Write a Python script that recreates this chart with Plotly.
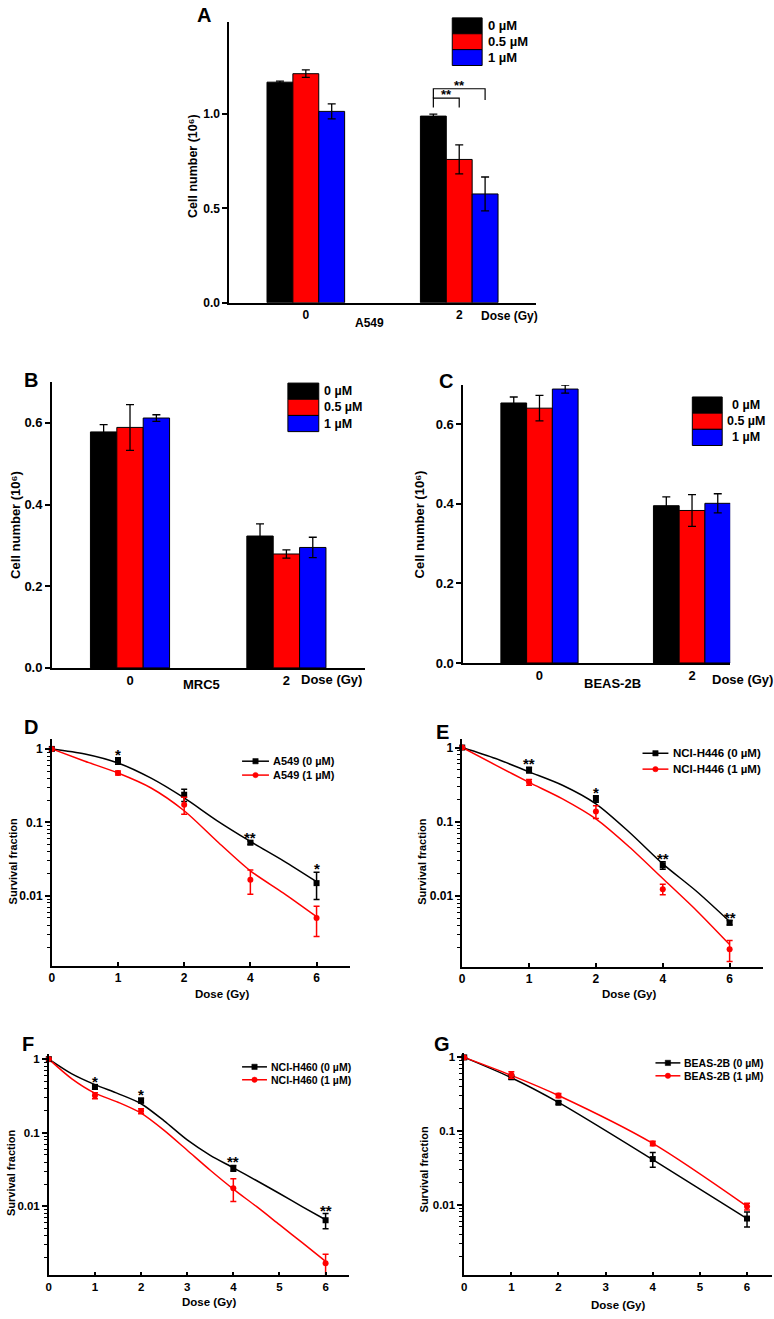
import math
import plotly.graph_objects as go

W, H = 774, 1319
FONT = "Liberation Sans"

# ---------------- data: bar panels (cell number, 10^6) ----------------
bar_doses = ["0", "2"]
conc_labels = ["0 µM", "0.5 µM", "1 µM"]

a549_0uM = [1.17, 0.99]
a549_0uM_err = [0.006, 0.01]
a549_05uM = [1.215, 0.76]
a549_05uM_err = [0.02, 0.077]
a549_1uM = [1.015, 0.577]
a549_1uM_err = [0.04, 0.09]

mrc5_0uM = [0.578, 0.323]
mrc5_0uM_err = [0.018, 0.03]
mrc5_05uM = [0.589, 0.279]
mrc5_05uM_err = [0.056, 0.01]
mrc5_1uM = [0.612, 0.295]
mrc5_1uM_err = [0.008, 0.025]

beas_0uM = [0.653, 0.395]
beas_0uM_err = [0.015, 0.022]
beas_05uM = [0.640, 0.383]
beas_05uM_err = [0.032, 0.04]
beas_1uM = [0.688, 0.401]
beas_1uM_err = [0.01, 0.024]

# ---------------- data: survival curves ----------------
# D and E use equally spaced dose categories
dose_cat_labels = ["0", "1", "2", "4", "6"]
dose_cat_fit = [0, 0.5, 1, 1.5, 2, 2.5, 3, 3.5, 4]  # category-index positions of fit readings

a549_sf_0 = [1.0, 0.69, 0.238, 0.053, 0.0149]
a549_sf_0_err = [0.0, 0.07, 0.045, 0.003, 0.006]
a549_sf_1 = [1.0, 0.47, 0.174, 0.0165, 0.005]
a549_sf_1_err = [0.0, 0.03, 0.045, 0.006, 0.0022]
a549_fit_0 = [1.0, 0.855, 0.644, 0.40, 0.215, 0.105, 0.055, 0.030, 0.0156]
a549_fit_1 = [1.0, 0.68, 0.47, 0.294, 0.144, 0.055, 0.0219, 0.0109, 0.0052]
a549_sig = ["", "*", "", "**", "*"]

h446_sf_0 = [1.0, 0.497, 0.203, 0.0258, 0.00434]
h446_sf_0_err = [0.0, 0.045, 0.02, 0.003, 0.0003]
h446_sf_1 = [1.0, 0.34, 0.137, 0.0123, 0.0019]
h446_sf_1_err = [0.0, 0.03, 0.027, 0.002, 0.0006]
h446_fit_0 = [1.0, 0.71, 0.47, 0.31, 0.174, 0.072, 0.027, 0.0116, 0.0045]
h446_fit_1 = [1.0, 0.58, 0.339, 0.203, 0.109, 0.0455, 0.0171, 0.0064, 0.0022]
h446_sig = ["", "**", "*", "**", "**"]

# F and G use a linear dose axis
dose_gy = [0, 1, 2, 4, 6]
dose_gy_fit = [0, 0.5, 1, 1.5, 2, 2.5, 3, 3.5, 4, 4.5, 5, 5.5, 6]

h460_sf_0 = [1.0, 0.42, 0.274, 0.033, 0.0065]
h460_sf_0_err = [0.0, 0.03, 0.02, 0.003, 0.0015]
h460_sf_1 = [1.0, 0.32, 0.197, 0.0177, 0.0017]
h460_sf_1_err = [0.0, 0.03, 0.015, 0.006, 0.00055]
h460_fit_0 = [1.0, 0.63, 0.45, 0.34, 0.248, 0.145, 0.080, 0.0495, 0.0335, 0.0225, 0.0150, 0.0099, 0.0066]
h460_fit_1 = [1.0, 0.54, 0.345, 0.26, 0.185, 0.108, 0.058, 0.031, 0.0172, 0.0100, 0.00566, 0.0032, 0.0018]
h460_sig = ["", "*", "*", "**", "**"]

beas_sf_0 = [1.0, 0.537, 0.242, 0.0417, 0.0065]
beas_sf_0_err = [0.0, 0.03, 0.01, 0.0095, 0.0015]
beas_sf_1 = [1.0, 0.58, 0.304, 0.068, 0.0095]
beas_sf_1_err = [0.0, 0.06, 0.02, 0.005, 0.001]
beas_fit_0 = [1.0, 0.53, 0.245, 0.041, 0.0065]
beas_fit_1 = [1.0, 0.57, 0.304, 0.068, 0.0095]

# ---------------- helpers ----------------
BLACK, RED, BLUE = "#000000", "#ff0000", "#0000ff"
bar_colors = [BLACK, RED, BLUE]


def xd(p0, p1):
    return [p0 / W, p1 / W]


def yd(top, bottom):
    return [1 - bottom / H, 1 - top / H]


def px(x):
    return x / W


def py(y):
    return 1 - y / H


def bold(size):
    return dict(family=FONT, size=size, color="black", weight="bold")


fig = go.Figure()
annotations = []
shapes = []


def text(x, y, t, size, angle=0, xanchor="center", yanchor="middle"):
    annotations.append(dict(x=px(x), y=py(y), xref="paper", yref="paper", text=t,
                            showarrow=False, textangle=angle, font=bold(size),
                            xanchor=xanchor, yanchor=yanchor))


axis_common = dict(showline=True, linecolor="black", linewidth=1.5, showgrid=False,
                   zeroline=False, ticks="outside", tickcolor="black", tickwidth=1.5,
                   ticklen=5, mirror=False)

layout_axes = {}


def bar_panel(idx, xdom, ydom, yrange, ytickvals, xrange, series, errs, tick_size):
    sfx = "" if idx == 1 else str(idx)
    xname, yname = "x" + sfx, "y" + sfx
    xpos = list(range(len(bar_doses)))
    for vals, err, col, lab in zip(series, errs, bar_colors, conc_labels):
        fig.add_trace(go.Bar(x=xpos, y=vals, xaxis=xname, yaxis=yname, name=lab,
                             marker=dict(color=col, line=dict(color="black", width=1)),
                             error_y=dict(type="data", array=err, color="black",
                                          thickness=1.3, width=4),
                             showlegend=False))
    layout_axes["xaxis" + sfx] = dict(axis_common, domain=xdom, anchor=yname, range=xrange,
                                      tickvals=xpos, ticktext=bar_doses, ticks="",
                                      tickfont=bold(tick_size))
    layout_axes["yaxis" + sfx] = dict(axis_common, domain=ydom, anchor=xname, range=yrange,
                                      tickvals=ytickvals, tickformat=".1f",
                                      tickfont=bold(tick_size))


def bar_legend(x0, x1, top, row_h, text_x, size, anchor="left"):
    for i, (lab, col) in enumerate(zip(conc_labels, bar_colors)):
        t = top + i * row_h
        shapes.append(dict(type="rect", xref="paper", yref="paper",
                           x0=px(x0), x1=px(x1), y0=py(t + row_h), y1=py(t),
                           fillcolor=col, line=dict(color="black", width=1)))
        text(text_x, t + row_h / 2, lab, size, xanchor=anchor)


def line_legend(x0, x1, rows, names, text_x, size):
    xm = (x0 + x1) / 2
    for yy, name, col, sym in zip(rows, names, (BLACK, RED), ("square", "circle")):
        shapes.append(dict(type="line", xref="paper", yref="paper", x0=px(x0), x1=px(x1),
                           y0=py(yy), y1=py(yy), line=dict(color=col, width=1.5)))
        shapes.append(dict(type="rect" if sym == "square" else "circle", xref="paper",
                           yref="paper", x0=px(xm - 2.7), x1=px(xm + 2.7), y0=py(yy + 2.7),
                           y1=py(yy - 2.7), fillcolor=col, line=dict(color=col, width=0.5)))
        text(text_x, yy, name, size, xanchor="left")


# Panel A
bar_panel(1, xd(227, 535), yd(20, 303), [0, 1.49], [0, 0.5, 1.0], [-0.5, 1.5],
          [a549_0uM, a549_05uM, a549_1uM], [a549_0uM_err, a549_05uM_err, a549_1uM_err], 12)
# Panel B
bar_panel(2, xd(49, 363), yd(383, 671), [0, 0.70], [0, 0.2, 0.4, 0.6], [-0.5, 1.5],
          [mrc5_0uM, mrc5_05uM, mrc5_1uM], [mrc5_0uM_err, mrc5_05uM_err, mrc5_1uM_err], 13)
# Panel C
bar_panel(3, xd(462, 730), yd(386, 666), [0, 0.698], [0, 0.2, 0.4, 0.6], [-0.5, 1.25],
          [beas_0uM, beas_05uM, beas_1uM], [beas_0uM_err, beas_05uM_err, beas_1uM_err], 13)

bar_legend(451, 481, 16, 16, 485, 13)
bar_legend(286, 317, 384, 16.3, 320, 12.5)
bar_legend(692, 722, 398, 16.3, 746, 12.5, anchor="center")

# significance brackets in panel A (between 0 µM and 0.5 / 1 µM at 2 Gy)
BARGAP = 0.494
bw = (1 - BARGAP) / 3
g = 1
base = a549_0uM[g] + a549_0uM_err[g]
xb, xr, xbl = g - bw, g, g + bw
inner_top, outer_top = base + 0.085, base + 0.135
shapes.append(dict(type="path", xref="x", yref="y",
                   path=f"M {xb},{inner_top - 0.05} L {xb},{inner_top} L {xr},{inner_top} L {xr},{inner_top - 0.05}",
                   line=dict(color="black", width=1.2)))
shapes.append(dict(type="path", xref="x", yref="y",
                   path=f"M {xb},{inner_top} L {xb},{outer_top} L {xbl},{outer_top} L {xbl},{outer_top - 0.06}",
                   line=dict(color="black", width=1.2)))
annotations.append(dict(x=(xb + xr) / 2, y=inner_top, xref="x", yref="y", text="**",
                        showarrow=False, font=bold(13), yanchor="bottom", yshift=-6))
annotations.append(dict(x=(xb + xbl) / 2, y=outer_top, xref="x", yref="y", text="**",
                        showarrow=False, font=bold(13), yanchor="bottom", yshift=-6))

# ---------------- survival panels ----------------
minor_vals = [k * 10 ** e for e in range(-3, 1) for k in range(2, 10)]


def surv_panel(idx, xdom, ydom, yrange, xrange, xs, xtickvals, xticktext, fit_x,
               sf0, sf0e, sf1, sf1e, fit0, fit1, names, sig, tick_size):
    sfx = str(idx)
    xname, yname = "x" + sfx, "y" + sfx
    for fit, col in ((fit0, BLACK), (fit1, RED)):
        fig.add_trace(go.Scatter(x=fit_x, y=fit, mode="lines",
                                 line=dict(color=col, width=1.5, shape="spline", smoothing=0.8),
                                 xaxis=xname, yaxis=yname, showlegend=False))
    for vals, err, col, sym, nm in ((sf0, sf0e, BLACK, "square", names[0]),
                                    (sf1, sf1e, RED, "circle", names[1])):
        fig.add_trace(go.Scatter(x=xs, y=vals, mode="markers", name=nm,
                                 marker=dict(color=col, symbol=sym, size=6),
                                 error_y=dict(type="data", array=err, color=col,
                                              thickness=1.5, width=3),
                                 cliponaxis=False, xaxis=xname, yaxis=yname, showlegend=False))
    for x, v, e, m in zip(xs, sf0, sf0e, sig):
        if m:
            annotations.append(dict(x=x, y=math.log10(v + e), xref=xname, yref=yname, text=m,
                                    showarrow=False, font=bold(15), yanchor="bottom", yshift=-7))
    layout_axes["xaxis" + sfx] = dict(axis_common, domain=xdom, anchor=yname, range=xrange,
                                      tickvals=xtickvals, ticktext=xticktext, ticks="inside",
                                      ticklen=4, tickfont=bold(tick_size))
    layout_axes["yaxis" + sfx] = dict(axis_common, domain=ydom, anchor=xname, type="log",
                                      range=yrange, tickvals=[0.01, 0.1, 1],
                                      ticktext=["0.01", "0.1", "1"], tickfont=bold(tick_size),
                                      minor=dict(tickvals=minor_vals, ticks="outside",
                                                 ticklen=3, tickcolor="black", tickwidth=1))


cat_pos = list(range(len(dose_cat_labels)))
d_names = ["A549 (0 µM)", "A549 (1 µM)"]
e_names = ["NCI-H446 (0 µM)", "NCI-H446 (1 µM)"]
f_names = ["NCI-H460 (0 µM)", "NCI-H460 (1 µM)"]
g_names = ["BEAS-2B (0 µM)", "BEAS-2B (1 µM)"]

surv_panel(4, xd(49, 348), yd(743, 971), [-2.95, 0.13], [0, 4.5], cat_pos, cat_pos,
           dose_cat_labels, dose_cat_fit, a549_sf_0, a549_sf_0_err, a549_sf_1, a549_sf_1_err,
           a549_fit_0, a549_fit_1, d_names, a549_sig, 12)
surv_panel(5, xd(461, 763), yd(743, 972), [-2.955, 0.11], [0, 4.5], cat_pos, cat_pos,
           dose_cat_labels, dose_cat_fit, h446_sf_0, h446_sf_0_err, h446_sf_1, h446_sf_1_err,
           h446_fit_0, h446_fit_1, e_names, h446_sig, 12)
surv_panel(6, xd(46, 347), yd(1060, 1283), [-2.934, 0.07], [0, 6.5], dose_gy, list(range(7)),
           [str(v) for v in range(7)], dose_gy_fit, h460_sf_0, h460_sf_0_err, h460_sf_1,
           h460_sf_1_err, h460_fit_0, h460_fit_1, f_names, h460_sig, 11.5)
surv_panel(7, xd(463, 772), yd(1059, 1283), [-2.957, 0.06], [0, 6.53], dose_gy, list(range(7)),
           [str(v) for v in range(7)], dose_gy, beas_sf_0, beas_sf_0_err, beas_sf_1,
           beas_sf_1_err, beas_fit_0, beas_fit_1, g_names, ["", "", "", "", ""], 11.5)

line_legend(240, 267, [765, 779], d_names, 269, 11)
line_legend(642, 668, [757, 773], e_names, 671, 11.5)
line_legend(240, 265, [1073, 1086], f_names, 267, 10.5)
line_legend(655, 680, [1069, 1082], g_names, 682, 10.5)

# ---------------- text labels ----------------
for letter, (x, y) in zip("ABCDEFG", [(202, 13), (28, 381), (445, 382), (28, 731), (441, 736),
                                        (25, 1050), (441, 1050)]):
    text(x, y, letter, 20)

ylab = "Cell number (10\u2076)"
text(190, 165, ylab, 12.5, angle=-90)
text(12, 527, ylab, 13, angle=-90)
text(418, 526, ylab, 13, angle=-90)
for x, y in [(10, 866), (421, 866), (8, 1180), (423, 1176)]:
    text(x, y, "Survival fraction", 11, angle=-90)

text(368, 323, "A549", 12)
text(508, 316, "Dose (Gy)", 12)
text(199, 688, "MRC5", 13)
text(330, 683, "Dose (Gy)", 13)
text(612, 687, "BEAS-2B", 13)
text(742, 683, "Dose (Gy)", 13)
text(220, 1000, "Dose (Gy)", 11.5)
text(628, 1000, "Dose (Gy)", 11.5)
text(207, 1310, "Dose (Gy)", 11.5)
text(617, 1313, "Dose (Gy)", 11.5)

fig.update_layout(width=W, height=H, margin=dict(l=0, r=0, t=0, b=0),
                  paper_bgcolor="white", plot_bgcolor="white",
                  barmode="group", bargap=BARGAP, bargroupgap=0,
                  font=dict(family=FONT, color="black"),
                  annotations=annotations, shapes=shapes, showlegend=False,
                  **layout_axes)

fig.write_html("out.html", config={"displayModeBar": False},
               post_script="document.body.style.margin='0';document.body.style.overflow='hidden';")
